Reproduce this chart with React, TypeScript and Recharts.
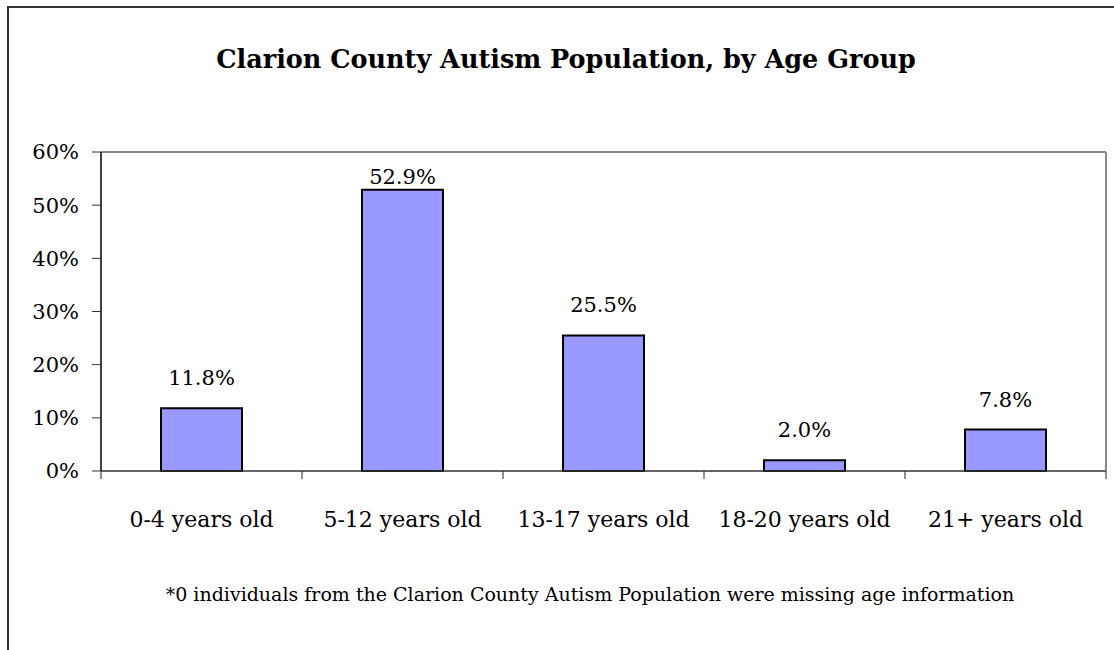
import { ComposedChart, Bar, XAxis, YAxis, LabelList, ReferenceLine } from "recharts";

const ageGroups = ["0-4 years old", "5-12 years old", "13-17 years old", "18-20 years old", "21+ years old"];
const shares = [11.8, 52.9, 25.5, 2.0, 7.8];
const yTicks = [0, 10, 20, 30, 40, 50, 60];

const data = ageGroups.map((group, i) => ({ group, share: shares[i] }));

const FONT = "'DejaVu Serif', serif";
const PLOT_TOP = 152;
const PLOT_LEFT = 101;
const PLOT_RIGHT = 1106;
const HALF_BAND = (PLOT_RIGHT - PLOT_LEFT) / ageGroups.length / 2;

const BarLabel = (props: any) => {
  const { x, y, width, value } = props;
  const cy = Math.max(y - 30, PLOT_TOP + 25);
  return (
    <text x={x + width / 2} y={cy} textAnchor="middle" dominantBaseline="central" fontSize={21} fontFamily={FONT} fill="#000">
      {Number(value).toFixed(1)}%
    </text>
  );
};

// category label plus the boundary tick marks Excel draws between categories
const CategoryTick = (props: any) => {
  const { x, y, payload, index, visibleTicksCount } = props;
  const last = index === visibleTicksCount - 1;
  return (
    <g>
      <line x1={x - HALF_BAND} x2={x - HALF_BAND} y1={y} y2={y + 8} stroke="#222" />
      {last && <line x1={x + HALF_BAND} x2={x + HALF_BAND} y1={y} y2={y + 8} stroke="#222" />}
      <text x={x} y={y + 40} dy="0.71em" textAnchor="middle" fontSize={22} fontFamily={FONT} fill="#000">
        {payload.value}
      </text>
    </g>
  );
};

export default function App() {
  return (
    <div style={{ position: "relative", width: 1114, height: 650, fontFamily: FONT }}>
      <style>{`body{margin:0;overflow:hidden}`}</style>
      <div style={{ position: "absolute", left: 7, top: 6, width: 1110, height: 650, borderLeft: "2px solid #333", borderTop: "2px solid #333" }} />
      <div style={{ position: "absolute", left: 0, width: 1132, top: 44, textAlign: "center", fontSize: 25.5, fontWeight: "bold" }}>
        Clarion County Autism Population, by Age Group
      </div>
      <div style={{ position: "absolute", left: 0, width: 1180, top: 583, textAlign: "center", fontSize: 19 }}>
        *0 individuals from the Clarion County Autism Population were missing age information
      </div>
      <div style={{ position: "absolute", left: 0, top: 0 }}>
        <ComposedChart width={1114} height={650} data={data} margin={{ top: PLOT_TOP, right: 1114 - PLOT_RIGHT - 1, bottom: 109, left: 0 }}>
          <XAxis
            dataKey="group"
            axisLine={{ stroke: "#333", strokeWidth: 1.5 }}
            tickLine={false}
            tickSize={0}
            tickMargin={0}
            height={70}
            interval={0}
            tick={CategoryTick}
          />
          <YAxis
            domain={[0, 60]}
            ticks={yTicks}
            width={PLOT_LEFT}
            tickFormatter={(v) => `${v}%`}
            axisLine={{ stroke: "#000", strokeWidth: 1.5 }}
            tickLine={{ stroke: "#333" }}
            tickSize={9}
            tickMargin={13}
            tick={{ fontSize: 21, fontFamily: FONT, fill: "#000" }}
          />
          <YAxis yAxisId="frame" orientation="right" width={1} domain={[0, 60]} tick={false} tickLine={false} axisLine={{ stroke: "#888", strokeWidth: 2 }} />
          <ReferenceLine y={60} stroke="#888" strokeWidth={2} />
          <Bar dataKey="share" barSize={81} fill="#9999ff" stroke="#000" strokeWidth={2} isAnimationActive={false}>
            <LabelList dataKey="share" content={BarLabel} />
          </Bar>
        </ComposedChart>
      </div>
    </div>
  );
}
